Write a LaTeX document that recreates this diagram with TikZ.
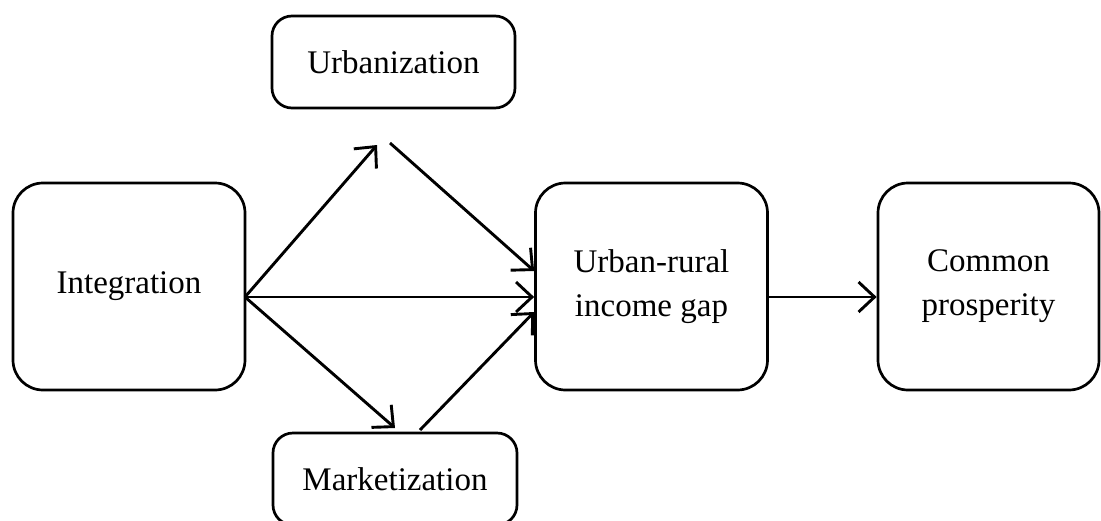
\documentclass[tikz,border=0pt]{standalone}
\usepackage{fontspec}
\setmainfont{Liberation Serif}
\usetikzlibrary{arrows.meta}
\begin{document}
\begin{tikzpicture}[x=1pt, y=-1pt,
  box/.style={draw, line width=2.7pt, rounded corners=#1, align=center,
              inner sep=0pt, font=\fontsize{33}{44}\selectfont},
  box/.default=30pt,
  link/.style={line width=2.9pt,
               -{Straight Barb[length=16pt, width=30pt, line width=2.9pt]}}
]
\useasboundingbox (0,0) rectangle (1101,520);
\begin{scope}
\clip (0,0) rectangle (1101,520);
% main chain
\node[box, minimum width=232pt, minimum height=207pt] (int) at (129,286.5) {Integration};
\node[box, minimum width=232pt, minimum height=207pt] (gap) at (651.5,286.5) {Urban-rural\\income gap};
\node[box, minimum width=221pt, minimum height=207pt] (cp) at (988.5,286.5) {Common\\prosperity};
% mediators
\node[box=20pt, minimum width=243pt, minimum height=92pt] (urb) at (393.5,62) {Urbanization};
\node[box=20pt, minimum width=244pt, minimum height=92pt] (mkt) at (395,479) {Marketization};
\end{scope}
% free ends of the mediating paths
\coordinate (urbIn) at (377,145);
\coordinate (urbOut) at (390,143);
\coordinate (mktIn) at (395,428);
\coordinate (mktOut) at (420,430);
\coordinate (intOut) at (245,297);
% connectors
\draw[link] (intOut) -- (urbIn);
\draw[link] (urbOut) -- (gap.west |- 0,271);
\draw[link] (intOut) -- (gap.west |- intOut);
\draw[link] (intOut) -- (mktIn);
\draw[link] (mktOut) -- (gap.west |- 0,312);
\draw[link] (gap.east |- intOut) -- (cp.west |- intOut);
\end{tikzpicture}
\end{document}
